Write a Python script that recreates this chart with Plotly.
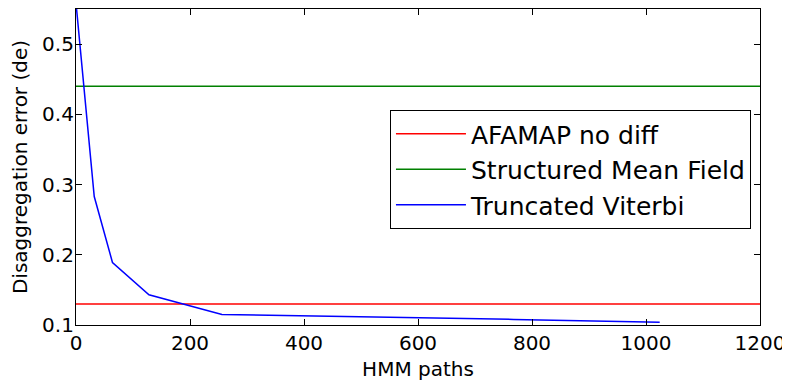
import plotly.graph_objects as go

hmm_paths = [1, 32, 64, 128, 256, 512, 768, 1024]
truncated_viterbi = [0.55, 0.283, 0.189, 0.143, 0.115, 0.112, 0.108, 0.104]
afamap_no_diff = 0.13
structured_mean_field = 0.44
x_span = [0, 1200]

fig = go.Figure()
fig.add_trace(go.Scatter(x=x_span, y=[afamap_no_diff]*2, mode="lines",
                         line=dict(color="#ff0000", width=1.5), name="AFAMAP no diff"))
fig.add_trace(go.Scatter(x=x_span, y=[structured_mean_field]*2, mode="lines",
                         line=dict(color="#008000", width=1.5), name="Structured Mean Field"))
fig.add_trace(go.Scatter(x=hmm_paths, y=truncated_viterbi, mode="lines",
                         line=dict(color="#0000ff", width=1.5), name="Truncated Viterbi"))

font = "DejaVu Sans"
axis_common = dict(showgrid=False, zeroline=False, showline=True, linecolor="black",
                   linewidth=1.2, mirror="allticks", ticks="inside", ticklen=6,
                   tickcolor="black", automargin=False,
                   tickfont=dict(family=font, size=20, color="black"))
fig.update_xaxes(range=[0, 1200], tickvals=[0, 200, 400, 600, 800, 1000, 1200],
                 title=dict(text="HMM paths", font=dict(family=font, size=20, color="black")),
                 **axis_common)
fig.update_yaxes(range=[0.1, 0.55], tickvals=[0.1, 0.2, 0.3, 0.4, 0.5],
                 tickformat=".1f", ticklabelstandoff=-3,
                 title=dict(text="Disaggregation error (de)", font=dict(family=font, size=20, color="black")),
                 **axis_common)
fig.update_layout(
    width=782, height=373,
    margin=dict(l=68, r=30, t=1, b=56),
    plot_bgcolor="white", paper_bgcolor="white",
    font=dict(family=font, color="black"),
    legend=dict(x=0.459, y=0.68, xanchor="left", yanchor="top",
                bordercolor="black", borderwidth=1, bgcolor="white",
                font=dict(family=font, size=25, color="black"),
                itemwidth=70, tracegroupgap=0),
)
fig.write_html("out.html")
